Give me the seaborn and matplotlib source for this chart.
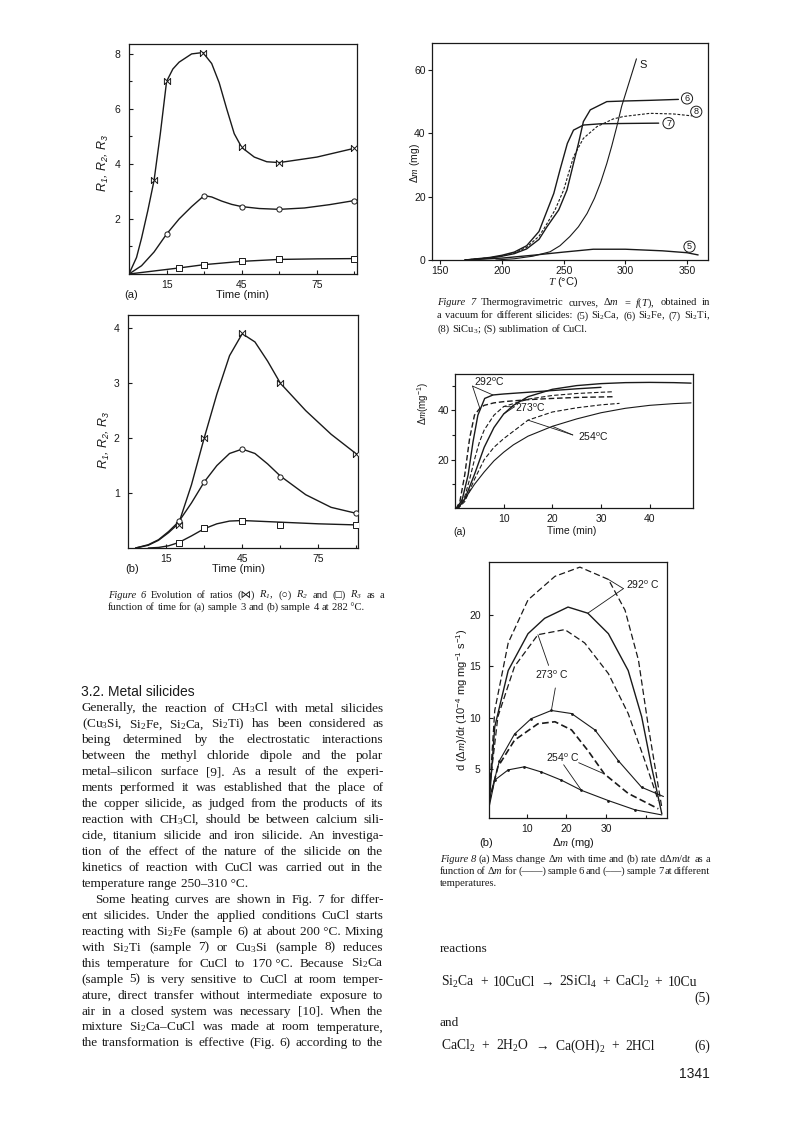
import numpy as np
import pandas as pd
import seaborn as sns
import matplotlib.pyplot as plt

sns.set_style('ticks')
plt.rcParams['font.family'] = ['Liberation Sans', 'DejaVu Sans']
plt.rcParams['mathtext.fontset'] = 'custom'
plt.rcParams['mathtext.rm'] = 'Liberation Serif'
plt.rcParams['mathtext.it'] = 'Liberation Serif:italic'
plt.rcParams['mathtext.bf'] = 'Liberation Serif:bold'
plt.rcParams['mathtext.sf'] = 'Liberation Sans'
plt.rcParams['mathtext.default'] = 'regular'

W, H = 792, 1123
SERIF = ['Liberation Serif', 'DejaVu Serif', 'DejaVu Sans']
SANS = ['Liberation Sans', 'DejaVu Sans']
INK = '#1a1a1a'

# ---------------- Figure 6 (a): sample 3, ratios vs time (min) ----------------
a_r1_t = [0, 3, 5, 7.5, 10, 12.5, 15, 17.5, 20, 25, 29.5, 33, 36, 39, 42, 45, 50, 55, 60, 75, 90]
a_r1_v = [0, 0.6, 1.3, 2.3, 3.4, 5.1, 7.0, 7.45, 7.7, 8.0, 8.05, 7.65, 6.95, 6.0, 5.1, 4.6, 4.25, 4.08, 4.05, 4.25, 4.57]
a_r1_mt = [10, 15, 29.5, 45, 60, 90]
a_r1_mv = [3.4, 7.0, 8.05, 4.6, 4.05, 4.57]
a_r2_t = [0, 5, 10, 15, 20, 25, 30, 33, 37, 41, 45, 52, 60, 70, 80, 90]
a_r2_v = [0, 0.3, 0.8, 1.45, 2.0, 2.45, 2.85, 2.8, 2.65, 2.53, 2.45, 2.38, 2.35, 2.4, 2.52, 2.67]
a_r2_mt = [15, 30, 45, 60, 90]
a_r2_mv = [1.45, 2.85, 2.45, 2.35, 2.67]
a_r3_t = [0, 10, 20, 30, 45, 60, 75, 90]
a_r3_v = [0, 0.11, 0.22, 0.34, 0.46, 0.53, 0.55, 0.56]
a_r3_mt = [20, 30, 45, 60, 90]
a_r3_mv = [0.22, 0.34, 0.46, 0.53, 0.56]

# ---------------- Figure 6 (b): sample 4 ----------------
b_r1_t = [3, 8, 12, 16, 20, 25, 30, 35, 40, 45, 50, 55, 60, 70, 80, 90]
b_r1_v = [0, 0.05, 0.14, 0.28, 0.45, 1.15, 2.0, 2.8, 3.5, 3.9, 3.75, 3.4, 3.0, 2.5, 2.07, 1.71]
b_r1_mt = [20, 30, 45, 60, 90]
b_r1_mv = [0.42, 2.0, 3.91, 3.0, 1.71]
b_r2_t = [3, 8, 12, 16, 20, 25, 30, 35, 40, 45, 50, 55, 60, 70, 80, 90]
b_r2_v = [0, 0.06, 0.15, 0.3, 0.48, 0.82, 1.2, 1.5, 1.72, 1.8, 1.72, 1.53, 1.31, 0.97, 0.74, 0.63]
b_r2_mt = [20, 30, 45, 60, 90]
b_r2_mv = [0.5, 1.2, 1.8, 1.3, 0.63]
b_r3_t = [8, 12, 16, 20, 25, 30, 35, 40, 45, 50, 60, 75, 90]
b_r3_v = [0, 0.01, 0.04, 0.1, 0.22, 0.35, 0.44, 0.49, 0.5, 0.49, 0.47, 0.44, 0.42]
b_r3_mt = [20, 30, 45, 60, 90]
b_r3_mv = [0.1, 0.36, 0.5, 0.42, 0.42]

# ---------------- Figure 7: thermogravimetric curves, dm (mg) vs T (C) ----------------
s5_T = [170, 200, 225, 250, 274, 300, 312, 330, 350, 359]
s5_v = [0, 0.6, 1.5, 2.5, 3.4, 3.4, 3.2, 2.9, 2.3, 1.6]
s6_T = [170, 190, 200, 210, 220, 230, 236.5, 246, 252.7, 258, 262, 266, 271.6, 285, 300, 320, 343]
s6_v = [0, 0.6, 1.2, 2, 3.5, 6.5, 10.5, 15.8, 22.1, 30.5, 36.8, 43.7, 47.4, 50, 50.2, 50.4, 50.7]
s7_T = [170, 190, 200, 210, 220, 230, 234, 238, 242, 247, 253, 258, 266, 280, 300, 327]
s7_v = [0, 0.8, 1.5, 2.5, 4.5, 9, 13, 17, 21, 28.4, 36.8, 41, 42.6, 43, 43.1, 43.2]
s8_T = [170, 190, 200, 210, 220, 230, 235, 243, 250, 258, 266, 277, 290, 298.5, 320, 339, 354]
s8_v = [0, 0.7, 1.3, 2.2, 4, 7.5, 10.5, 15.8, 22.1, 32.6, 38.4, 42.1, 44.5, 45.3, 46.3, 46.1, 45.5]
sS_T = [195, 210, 225, 239, 247, 255, 262, 269, 275, 280, 285, 289, 293, 297, 303, 309]
sS_v = [0, 0.4, 1.2, 2.6, 4.5, 7.4, 10.5, 14.7, 19.5, 24.5, 30.5, 36, 42, 48.5, 56, 63.5]

# ---------------- Figure 8 (a): dm (mg) vs time (min) ----------------
a292s_t = [0.3, 1.5, 2.7, 3.7, 4.7, 6.1, 7.8, 10, 15, 20, 25, 30]
a292s_v = [0, 4, 13.8, 27.2, 38, 44.8, 46.2, 46.6, 47.3, 48, 48.7, 49.3]
a292d_t = [0.2, 1, 2, 3, 4, 5.1, 6, 8, 10, 15, 20, 25, 30, 32.8]
a292d_v = [0, 3, 13.8, 28.6, 38, 40.8, 42, 43, 43.5, 44.3, 44.8, 45.2, 45.4, 45.5]
a273s_t = [0.5, 2, 4, 6, 8, 10, 12, 15, 20, 25, 30, 35, 40, 45, 48.5]
a273s_v = [0, 4, 14, 25, 33, 38.5, 42, 45.5, 48.5, 50, 50.8, 51.2, 51.3, 51.2, 51]
a273d_t = [0.4, 2, 3, 4, 5, 6, 8, 10, 15, 20, 25, 30, 32.4]
a273d_v = [0, 5, 12, 20, 27, 32, 38, 41.5, 44.5, 46, 46.8, 47.3, 47.5]
a254s_t = [0.5, 2, 4, 6, 8, 10, 12, 15, 20, 25, 30, 35, 40, 45, 48.5]
a254s_v = [0, 4, 10, 15, 19.5, 23, 26, 29.5, 33.5, 36.5, 39, 40.8, 42, 42.7, 43]
a254d_t = [0.5, 2, 4, 6, 8, 10, 12, 15, 20, 25, 30, 33.8]
a254d_v = [0, 3, 12, 20, 25, 28.5, 31.5, 36, 39.3, 41, 42.2, 42.8]

# ---------------- Figure 8 (b): rate vs dm (mg) ----------------
b292d_x = [0.5, 1.9, 5.3, 10.3, 17.1, 23.4, 30.6, 34.8, 38.2, 40.7, 42.8, 44.1]
b292d_y = [2.2, 10.7, 17.3, 21.5, 23.8, 24.7, 23.5, 20.5, 15.6, 9.1, 4.2, 1.2]
b292s_x = [0.5, 1.9, 5.3, 10.3, 14.5, 20.4, 25.4, 30.6, 35.6, 39, 41.5, 44.1]
b292s_y = [1.6, 9.1, 14.6, 18.2, 19.7, 20.8, 20.2, 18.2, 14.6, 10.1, 5.2, 0.6]
b273d_x = [0.5, 2.7, 6.9, 12.8, 19.6, 24.6, 30.6, 35.6, 39.8, 43.2]
b273d_y = [2.8, 10.1, 15.0, 18.1, 18.6, 17.3, 14.3, 10.4, 5.8, 1.9]
b273s_x = [0.5, 3.1, 6.9, 11.1, 16.2, 21.3, 27.2, 33.1, 39, 44.5]
b273s_y = [2.0, 5.8, 8.4, 9.9, 10.7, 10.4, 8.8, 5.8, 3.2, 2.3]
b254d_x = [0.5, 2.7, 6.9, 12.8, 17.1, 21.3, 25.4, 29.6, 35.6, 43.2]
b254d_y = [1.8, 5.2, 7.8, 9.4, 9.6, 8.8, 6.8, 4.5, 2.6, 1.1]
b254s_x = [0.5, 1.9, 5.3, 9.4, 13.6, 18.7, 23.8, 30.6, 37.3, 44.1]
b254s_y = [1.3, 3.9, 4.9, 5.2, 4.7, 3.9, 2.9, 1.9, 1.0, 0.5]

# ---------------- page text ----------------
body_lines = [
    "Generally, the reaction of CH$_3$Cl with metal silicides",
    "(Cu$_3$Si, Si$_2$Fe, Si$_2$Ca, Si$_2$Ti) has been considered as",
    "being determined by the electrostatic interactions",
    "between the methyl chloride dipole and the polar",
    "metal–silicon surface [9]. As a result of the experi-",
    "ments performed it was established that the place of",
    "the copper silicide, as judged from the products of its",
    "reaction with CH$_3$Cl, should be between calcium sili-",
    "cide, titanium silicide and iron silicide. An investiga-",
    "tion of the effect of the nature of the silicide on the",
    "kinetics of reaction with CuCl was carried out in the",
    "temperature range 250–310\u00a0°C.",
    "Some heating curves are shown in Fig. 7 for differ-",
    "ent silicides. Under the applied conditions CuCl starts",
    "reacting with Si$_2$Fe (sample 6) at about 200\u00a0°C. Mixing",
    "with Si$_2$Ti (sample 7) or Cu$_3$Si (sample 8) reduces",
    "this temperature for CuCl to 170\u00a0°C. Because Si$_2$Ca",
    "(sample 5) is very sensitive to CuCl at room temper-",
    "ature, direct transfer without intermediate exposure to",
    "air in a closed system was necessary [10]. When the",
    "mixture Si$_2$Ca–CuCl was made at room temperature,",
    "the transformation is effective (Fig. 6) according to the",
]
cap6 = ["~Figure ~6 Evolution of ratios (⋈) ~R$_1$, (○) ~R$_2$ and (□) ~R$_3$ as a",
        "function of time for (a) sample 3 and (b) sample 4 at 282\u00a0°C."]
cap7 = ["~Figure ~7 Thermogravimetric curves, Δ$\\mathit{m}$ = $\\mathit{f}$($\\mathit{T}$), obtained in",
        "a vacuum for different silicides: (5) Si$_2$Ca, (6) Si$_2$Fe, (7) Si$_2$Ti,",
        "(8) SiCu$_3$; (S) sublimation of CuCl."]
cap8 = ["~Figure ~8 (a) Mass change Δ$\\mathit{m}$ with time and (b) rate dΔ$\\mathit{m}$/d$\\mathit{t}$ as a",
        "function of Δ$\\mathit{m}$ for (——) sample 6 and (–––) sample 7 at different",
        "temperatures."]
eq5 = "Si$_2$Ca + 10CuCl → 2SiCl$_4$ + CaCl$_2$ + 10Cu"
eq6 = "CaCl$_2$ + 2H$_2$O → Ca(OH)$_2$ + 2HCl"

fig = plt.figure(figsize=(W / 100, H / 100), dpi=100)
fig.patch.set_facecolor('white')
rend = fig.canvas.get_renderer()


def box(l, t, r, b):
    return fig.add_axes([l / W, 1 - b / H, (r - l) / W, (b - t) / H])


def put(x, y, s, size=7.5, ha='center', va='center', **kw):
    kw.setdefault('family', SANS)
    return fig.text(x / W, 1 - y / H, s, fontsize=size, ha=ha, va=va, color=INK, **kw)


def text_line(x0, y, s, size, x1=None, family=SERIF):
    arts = []
    for w in s.split(' '):
        st = 'normal'
        if w.startswith('~'):
            w, st = w[1:], 'italic'
        arts.append(fig.text(x0 / W, 1 - y / H, w, fontsize=size, family=family,
                             style=st, va='baseline', color=INK))
    widths = [a.get_window_extent(rend).width for a in arts]
    if x1 is None or len(arts) < 2:
        gap = size * 100 / 72 * 0.25
    else:
        gap = (x1 - x0 - sum(widths)) / (len(arts) - 1)
    x = x0
    for a, w in zip(arts, widths):
        a.set_x(x / W)
        x += w + gap


def curve(ax, x, y, ls='-', lw=1.0):
    sns.lineplot(x=x, y=y, ax=ax, color=INK, lw=lw, ls=ls, sort=False, estimator=None)


def dots(ax, x, y, m, s=16):
    sns.scatterplot(x=x, y=y, ax=ax, marker=m, s=s, facecolor='white',
                    edgecolor=INK, linewidth=0.7, zorder=3)


def frame(ax, xlim, ylim, xmaj, ymaj, xmin=(), ymin=(), xdir='in', ydir='in',
          xpad=3, ypad=3, size=7.5):
    ax.set_xlim(*xlim)
    ax.set_ylim(*ylim)
    ax.set_xticks(xmaj)
    ax.set_xticks(list(xmin), minor=True)
    ax.set_yticks(ymaj)
    ax.set_yticks(list(ymin), minor=True)
    ax.tick_params(axis='x', which='both', direction=xdir, pad=xpad)
    ax.tick_params(axis='y', which='both', direction=ydir, pad=ypad)
    ax.tick_params(which='both', labelsize=size, colors=INK, width=0.8)
    ax.tick_params(which='major', length=3)
    ax.tick_params(which='minor', length=2.5)
    ax.set_xlabel('')
    ax.set_ylabel('')
    ax.set_facecolor('white')
    for sp in ax.spines.values():
        sp.set_linewidth(0.9)
        sp.set_color(INK)


def leader(ax, origin, x, y, i):
    ax.annotate('', xy=(x[i], y[i]), xytext=origin,
                arrowprops=dict(arrowstyle='-', color=INK, lw=0.6, shrinkA=0, shrinkB=0))


bowtie = [(-1, -1), (-1, 1), (1, -1), (1, 1), (-1, -1)]

# ---- Fig 6a ----
ax = box(129, 44, 357, 274)
curve(ax, a_r1_t, a_r1_v)
curve(ax, a_r2_t, a_r2_v)
curve(ax, a_r3_t, a_r3_v)
dots(ax, a_r1_mt, a_r1_mv, bowtie, 20)
dots(ax, a_r2_mt, a_r2_mv, 'o', 14)
dots(ax, a_r3_mt, a_r3_mv, 's', 13)
frame(ax, (0, 91), (0, 8.36), [15, 45, 75], [2, 4, 6, 8], [30, 60, 90], [1, 3, 5, 7],
      xpad=4, ypad=6)
put(103, 163, 'R$_1$, R$_2$, R$_3$', 9, rotation=90, style='italic')
put(242, 295, 'Time (min)', 8)
put(131, 295, '(a)', 8)

# ---- Fig 6b ----
ax = box(128, 315, 358, 548)
curve(ax, b_r1_t, b_r1_v)
curve(ax, b_r2_t, b_r2_v)
curve(ax, b_r3_t, b_r3_v)
dots(ax, b_r1_mt, b_r1_mv, bowtie, 20)
dots(ax, b_r2_mt, b_r2_mv, 'o', 14)
dots(ax, b_r3_mt, b_r3_mv, 's', 13)
frame(ax, (0, 90.6), (0, 4.24), [15, 45, 75], [1, 2, 3, 4], [30, 60, 90], [],
      xpad=4, ypad=6)
put(104, 440, 'R$_1$, R$_2$, R$_3$', 9, rotation=90, style='italic')
put(239, 569, 'Time (min)', 8)
put(132, 569, '(b)', 8)

# ---- Fig 7 ----
ax = box(432, 43, 708, 260)
curve(ax, s5_T, s5_v)
curve(ax, s6_T, s6_v)
curve(ax, s7_T, s7_v)
curve(ax, s8_T, s8_v, ls=(0, (2.5, 1.5)), lw=0.8)
curve(ax, sS_T, sS_v, lw=0.8)
frame(ax, (143.3, 367), (0, 68.5), [150, 200, 250, 300, 350], [0, 20, 40, 60],
      xdir='out', ydir='out', xpad=1.5, ypad=1.5)
for lab, tx, ty in [('6', 350, 51), ('8', 357.5, 46.8), ('7', 335, 43.2), ('5', 352, 4.2)]:
    ax.text(tx, ty, lab, fontsize=6.5, ha='center', va='center', color=INK,
            bbox=dict(boxstyle='circle,pad=0.12', fc='white', ec=INK, lw=0.7))
ax.text(311.3, 61.6, 'S', fontsize=8, ha='left', va='center', color=INK)
put(415, 163, 'Δ$\\mathit{m}$ (mg)', 7.5, rotation=90)
put(563, 282, '$\\mathit{T}$ (°C)', 8)

# ---- Fig 8a ----
ax = box(455, 374, 693, 508)
curve(ax, a292s_t, a292s_v)
curve(ax, a273s_t, a273s_v)
curve(ax, a254s_t, a254s_v, lw=0.8)
curve(ax, a292d_t, a292d_v, ls=(0, (4, 2)))
curve(ax, a273d_t, a273d_v, ls=(0, (4, 2)), lw=0.8)
curve(ax, a254d_t, a254d_v, ls=(0, (4, 2)), lw=0.8)
frame(ax, (0, 48.9), (0.4, 54.7), [10, 20, 30, 40], [20, 40], [], [10, 30, 50],
      xdir='in', ydir='out', xpad=4, ypad=1.5)
ax.text(7.1, 51.4, '292$^{o}$C', fontsize=7.5, ha='center', va='center', color=INK)
leader(ax, (3.6, 49.8), a292d_t, a292d_v, 5)
leader(ax, (3.6, 49.8), a292s_t, a292s_v, 6)
ax.text(15.5, 40.9, '273$^{o}$C', fontsize=7.5, ha='center', va='center', color=INK)
leader(ax, (12.2, 41.4), a273d_t, a273d_v, 7)
leader(ax, (12.2, 41.4), a273s_t, a273s_v, 5)
ax.text(28.5, 29.1, '254$^{o}$C', fontsize=7.5, ha='center', va='center', color=INK)
leader(ax, (24.2, 30), a254d_t, a254d_v, 7)
leader(ax, (24.2, 30), a254s_t, a254s_v, 8)
put(423, 403, 'Δ$\\mathit{m}$(mg$^{−1}$)', 7, rotation=90)
put(572, 531, 'Time (min)', 7.5)
put(460, 532, '(a)', 7.5)

# ---- Fig 8b ----
ax = box(489, 562, 667, 818)
curve(ax, b292s_x, b292s_y)
curve(ax, b273s_x, b273s_y, lw=0.8)
curve(ax, b254s_x, b254s_y, lw=0.8)
curve(ax, b292d_x, b292d_y, ls=(0, (5, 2.5)), lw=0.9)
curve(ax, b273d_x, b273d_y, ls=(0, (5, 2.5)), lw=0.9)
curve(ax, b254d_x, b254d_y, ls=(0, (4, 2)), lw=1.2)
sns.scatterplot(x=b273s_x[1:-1], y=b273s_y[1:-1], ax=ax, s=4, color=INK, linewidth=0)
sns.scatterplot(x=b254s_x[1:-1], y=b254s_y[1:-1], ax=ax, s=4, color=INK, linewidth=0)
frame(ax, (0.45, 45.4), (0.2, 25.2), [10, 20, 30], [5, 10, 15, 20], [40], [],
      xdir='in', ydir='in', xpad=4.5, ypad=6)
ax.text(39.2, 23, '292$^{o}$ C', fontsize=7.5, ha='center', va='center', color=INK)
leader(ax, (34.4, 22.6), b292d_x, b292d_y, 6)
leader(ax, (34.4, 22.6), b292s_x, b292s_y, 6)
ax.text(16.3, 14.2, '273$^{o}$ C', fontsize=7.5, ha='center', va='center', color=INK)
leader(ax, (15.5, 15.1), b273d_x, b273d_y, 3)
leader(ax, (17.2, 12.9), b273s_x, b273s_y, 4)
ax.text(19.1, 6.1, '254$^{o}$ C', fontsize=7.5, ha='center', va='center', color=INK)
leader(ax, (19.3, 5.4), b254s_x, b254s_y, 6)
leader(ax, (23.1, 5.6), b254d_x, b254d_y, 7)
put(462, 700, 'd (Δ$\\mathit{m}$)/d$\\mathit{t}$ (10$^{−4}$ mg mg$^{−1}$ s$^{−1}$)', 8, rotation=90)
put(573, 843, 'Δ$\\mathit{m}$ (mg)', 8)
put(486, 843, '(b)', 8)

# ---- captions ----
text_line(108, 597.5, cap6[0], 7.6, 384)
text_line(108, 610, cap6[1], 7.6)
for i, s in enumerate(cap7):
    text_line(437, 305.5 + i * 13, s, 7.6, 710 if i < 2 else None)
for i, s in enumerate(cap8):
    text_line(440, 861.5 + i * 12.5, s, 7.6, 710 if i < 2 else None)

# ---- body text, left column ----
put(81, 692, '3.2. Metal silicides', 10, ha='left')
for i, s in enumerate(body_lines):
    y = 708 + i * 15.95 + 3.5
    x0 = 95 if i == 12 else 81.5
    text_line(x0, y, s, 9.5, None if i == 11 else 383.5)

# ---- right column ----
text_line(440, 951.5, 'reactions', 9.5)
text_line(441, 985.5, eq5, 9.8, 697)
put(710, 998, '(5)', 9.8, ha='right', family=SERIF)
text_line(440, 1025.5, 'and', 9.5)
text_line(441, 1049.5, eq6, 9.8, 655)
put(710, 1046, '(6)', 9.8, ha='right', family=SERIF)
put(710, 1074, '1341', 10, ha='right')

fig.savefig('out.png', dpi=100, facecolor='white')
